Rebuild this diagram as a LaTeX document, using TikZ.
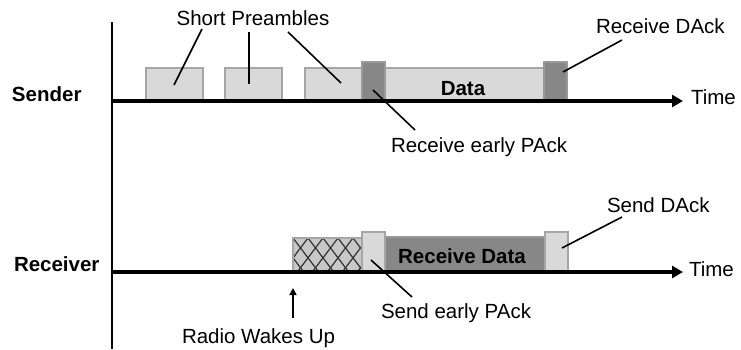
\documentclass[tikz,border=0pt]{standalone}
\usepackage{fontspec}
\setmainfont{Liberation Sans}
\usetikzlibrary{arrows.meta}
\definecolor{lightbar}{HTML}{D9D9D9}
\definecolor{lightedge}{HTML}{A6A6A6}
\definecolor{darkbar}{HTML}{878787}
\definecolor{darkedge}{HTML}{9A9A9A}
\definecolor{hatchfill}{HTML}{C8C8C8}
\definecolor{hatchline}{HTML}{333333}

\begin{document}
\begin{tikzpicture}[x=1pt,y=-1pt,
  every node/.style={font=\fontsize{20.5}{24}\selectfont, inner sep=0pt, outer sep=0pt},
  lightbox/.style={draw=lightedge, fill=lightbar, line width=1.2pt, anchor=north west},
  darkbox/.style={draw=darkedge, fill=darkbar, line width=1.2pt, anchor=north west},
  hatchbox/.style={draw=lightedge, fill=hatchfill, line width=1.2pt, anchor=north west},
  timeaxis/.style={line width=3.5pt, -{Triangle[length=11pt,width=12pt]}},
  leader/.style={line width=1.6pt},
  lbl/.style={anchor=base west},
  boldlbl/.style={anchor=base, font=\fontsize{20.5}{24}\selectfont\bfseries}
]
\useasboundingbox (0,0) rectangle (741,349);

% ---------------- Sender slots ----------------
\node[lightbox, minimum width=57pt, minimum height=33pt] (p1) at (146,68) {};
\node[lightbox, minimum width=57pt, minimum height=33pt] (p2) at (225,68) {};
\node[lightbox, minimum width=57pt, minimum height=33pt] (p3) at (305,68) {};
\node[lightbox, minimum width=159pt, minimum height=33pt] (data) at (385,68) {};
\node[darkbox, minimum width=23pt, minimum height=39pt] (pack) at (362,62) {};
\node[darkbox, minimum width=23pt, minimum height=39pt] (dack) at (544,62) {};
\node[boldlbl] (datatxt) at (463,95) {Data};

% ---------------- Receiver slots ----------------
\node[hatchbox, minimum width=69pt, minimum height=34pt] (wake) at (293,238) {};
\begin{scope}
  \clip (293,238) rectangle (362,272);
  \foreach \k in {-6,...,6} {
    \draw[hatchline, line width=1.2pt] (293+\k*15,238) -- ++(90,119);
    \draw[hatchline, line width=1.2pt] (293+\k*15+90,238) -- ++(-90,119);
  }
\end{scope}
\draw[lightedge, line width=1.2pt] (wake.north west) rectangle (wake.south east);
\node[darkbox, minimum width=160pt, minimum height=35pt] (rdata) at (385,237) {};
\node[lightbox, minimum width=23pt, minimum height=40pt] (spack) at (362,232) {};
\node[lightbox, minimum width=23pt, minimum height=40pt] (sdack) at (545,232) {};
\node[boldlbl] (rdatatxt) at (462,263) {Receive Data};

% ---------------- Axes ----------------
\coordinate (top) at (112,22);
\coordinate (bottom) at (112,349);
\coordinate (s0) at (112,101);
\coordinate (s1) at (683,101);
\coordinate (r0) at (112,272);
\coordinate (r1) at (683,272);
\draw[line width=2pt] (top) -- (bottom);
\draw[timeaxis] (s0) -- (s1);
\draw[timeaxis] (r0) -- (r1);

\node[lbl, font=\fontsize{20.5}{24}\selectfont\bfseries] (sender) at (12,101) {Sender};
\node[lbl, font=\fontsize{20.5}{24}\selectfont\bfseries] (receiver) at (14,271) {Receiver};
\node[lbl] (time1) at (691,104) {Time};
\node[lbl] (time2) at (689,276) {Time};

% ---------------- Labels ----------------
\node[anchor=base] (short) at (253,25) {Short Preambles};
\node[lbl] (rdack) at (596,33) {Receive DAck};
\node[lbl] (rpack) at (391,152) {Receive early PAck};
\node[lbl] (sdacklbl) at (607,212) {Send DAck};
\node[lbl] (spacklbl) at (381,318) {Send early PAck};
\node[lbl] (wakelbl) at (182,343) {Radio Wakes Up};

% ---------------- Leader lines ----------------
\coordinate (a1) at (202,29);  \coordinate (b1) at (174,85);
\coordinate (a2) at (249,32);  \coordinate (b2) at (249,84);
\coordinate (a3) at (288,32);  \coordinate (b3) at (341,83);
\coordinate (a4) at (415,130); \coordinate (b4) at (373,90);
\coordinate (a5) at (622,40);  \coordinate (b5) at (563,72);
\coordinate (a6) at (622,217); \coordinate (b6) at (562,248);
\coordinate (a7) at (412,297); \coordinate (b7) at (371,260);
\coordinate (w0) at (293,318); \coordinate (w1) at (293,288);
\draw[leader] (a1) -- (b1);
\draw[leader] (a2) -- (b2);
\draw[leader] (a3) -- (b3);
\draw[leader] (a4) -- (b4);
\draw[leader] (a5) -- (b5);
\draw[leader] (a6) -- (b6);
\draw[leader] (a7) -- (b7);
\draw[line width=1.5pt, -{Triangle[length=7pt,width=7pt]}] (w0) -- (w1);
\end{tikzpicture}
\end{document}
